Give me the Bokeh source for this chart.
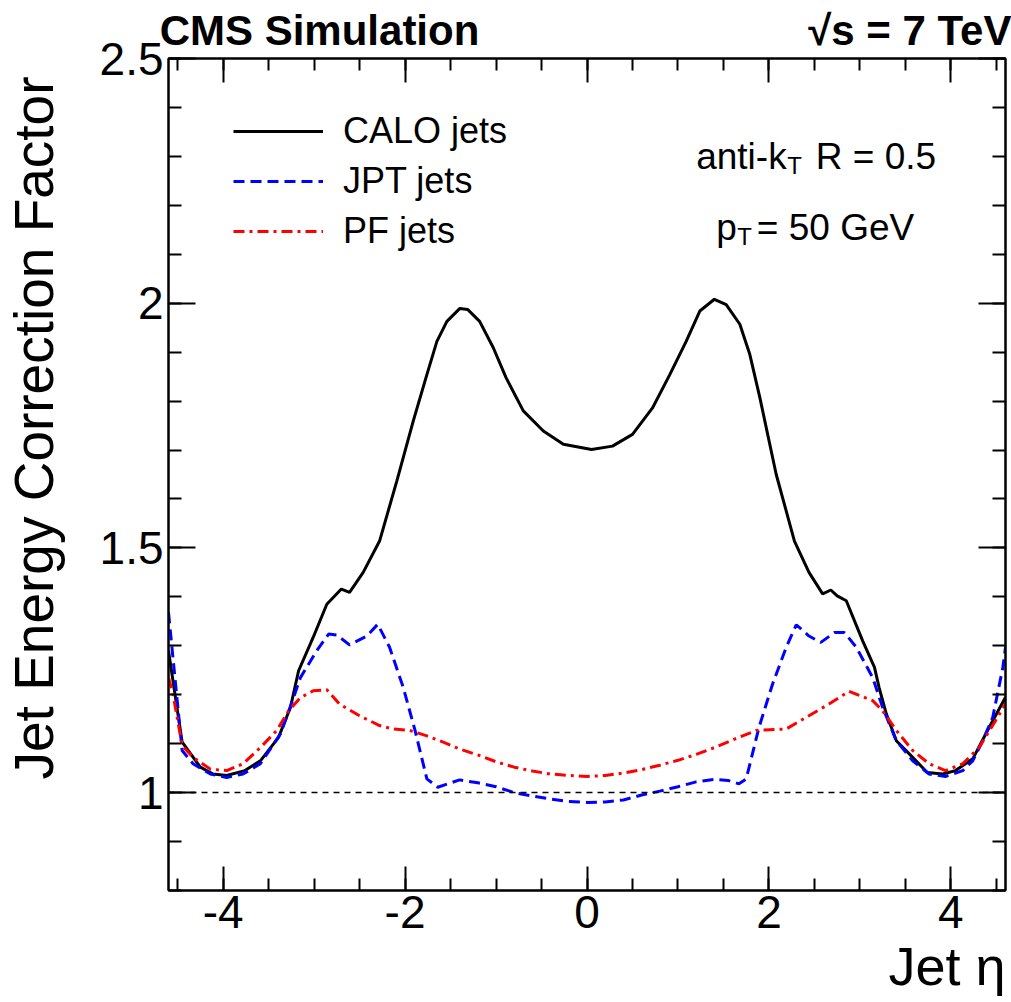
import numpy as np
from bokeh.plotting import figure
from bokeh.models import (Range1d, LinearAxis, SingleIntervalTicker, FixedTicker, Span, Label,
                          Legend, LegendItem, CustomJSTickFormatter, Title)
from bokeh.embed import file_html
from bokeh.resources import INLINE

# ---------------- data ----------------
eta_calo = [-4.60, -4.45, -4.25, -4.11, -3.96, -3.76, -3.59, -3.39, -3.26, -3.17, -3.01, -2.86,
            -2.70, -2.61, -2.46, -2.28, -2.09, -1.91, -1.76, -1.65, -1.54, -1.40, -1.31, -1.18,
            -1.03, -0.89, -0.70, -0.48, -0.26, 0.05, 0.28, 0.50, 0.72, 0.91, 1.09, 1.24, 1.40,
            1.53, 1.68, 1.79, 1.90, 2.08, 2.28, 2.44, 2.59, 2.68, 2.75, 2.85, 3.03, 3.16, 3.21,
            3.29, 3.40, 3.58, 3.74, 3.91, 4.05, 4.24, 4.42, 4.60]
calo = [1.290, 1.103, 1.052, 1.038, 1.035, 1.045, 1.065, 1.113, 1.174, 1.249, 1.317, 1.385,
        1.416, 1.409, 1.450, 1.514, 1.637, 1.759, 1.854, 1.922, 1.963, 1.989, 1.987, 1.963,
        1.909, 1.848, 1.780, 1.739, 1.712, 1.701, 1.708, 1.732, 1.786, 1.854, 1.922, 1.984, 2.008,
        1.997, 1.957, 1.895, 1.807, 1.650, 1.514, 1.450, 1.406, 1.414, 1.402, 1.392, 1.310, 1.256, 1.215,
        1.161, 1.106, 1.072, 1.041, 1.038, 1.045, 1.069, 1.133, 1.195]

eta_jpt = [-4.60, -4.45, -4.33, -4.14, -3.96, -3.78, -3.59, -3.37, -3.25, -3.15, -2.97, -2.84,
           -2.75, -2.61, -2.42, -2.30, -2.17, -2.02, -1.89, -1.76, -1.64, -1.40, -1.20, -1.00,
           -0.80, -0.60, -0.40, -0.20, 0.00, 0.20, 0.40, 0.60, 0.80, 1.00, 1.20, 1.40, 1.55, 1.67,
           1.75, 1.89, 2.04, 2.19, 2.30, 2.44, 2.57, 2.72, 2.83, 2.96, 3.14, 3.25, 3.40, 3.58, 3.76,
           3.94, 4.13, 4.24, 4.35, 4.46, 4.57, 4.60]
jpt = [1.368, 1.086, 1.059, 1.038, 1.031, 1.038, 1.059, 1.120, 1.181, 1.235, 1.290, 1.324,
       1.322, 1.302, 1.320, 1.344, 1.297, 1.215, 1.127, 1.028, 1.011, 1.026, 1.020, 1.012,
       1.000, 0.993, 0.987, 0.982, 0.980, 0.981, 0.985, 0.995, 1.003, 1.012, 1.022, 1.027, 1.025, 1.018,
       1.028, 1.133, 1.222, 1.297, 1.343, 1.320, 1.307, 1.327, 1.327, 1.297, 1.235, 1.174, 1.106, 1.065, 1.038,
       1.033, 1.045, 1.065, 1.106, 1.154, 1.255, 1.297]

eta_pf = [-4.60, -4.55, -4.45, -4.33, -4.14, -3.96, -3.78, -3.59, -3.41, -3.28, -3.15, -3.01,
          -2.86, -2.72, -2.50, -2.28, -2.13, -1.95, -1.76, -1.58, -1.40, -1.20, -1.00, -0.80,
          -0.60, -0.40, -0.20, 0.00, 0.20, 0.40, 0.60, 0.80, 1.00, 1.20, 1.40, 1.67, 1.86, 2.19,
          2.41, 2.66, 2.88, 3.14, 3.25, 3.40, 3.58, 3.76, 3.94, 4.13, 4.31, 4.49, 4.60]
pf = [1.235, 1.201, 1.096, 1.072, 1.048, 1.045, 1.059, 1.092, 1.127, 1.167, 1.194, 1.208,
      1.210, 1.181, 1.157, 1.137, 1.130, 1.127, 1.116, 1.103, 1.089, 1.077, 1.063, 1.052,
      1.044, 1.038, 1.035, 1.033, 1.035, 1.040, 1.047, 1.056, 1.066, 1.078, 1.092, 1.113, 1.127, 1.130,
      1.154, 1.181, 1.207, 1.188, 1.167, 1.127, 1.086, 1.059, 1.045, 1.059, 1.092, 1.147, 1.181]

series_names = ["CALO jets", "JPT jets", "PF jets"]
reference_level = 1.0
x_lo, x_hi = -4.6, 4.6
y_lo, y_hi = 0.8, 2.5

FONT = "Liberation Sans"

# ---------------- figure ----------------
p = figure(frame_width=837, frame_height=832,
           min_border_left=168, min_border_right=6, min_border_top=58, min_border_bottom=110,
           x_range=Range1d(x_lo, x_hi), y_range=Range1d(y_lo, y_hi),
           x_axis_location=None, y_axis_location=None,
           output_backend="svg", toolbar_location=None)
p.grid.visible = False
p.outline_line_color = "black"
p.outline_line_width = 2
p.background_fill_color = "white"
p.border_fill_color = "white"

fmt = CustomJSTickFormatter(code="return String(Math.round(tick*10)/10);")
blank = CustomJSTickFormatter(code="return '';")


def make_axis(ticker, show_labels, major_len, minor_len, font_size="44px", standoff=6):
    ax = LinearAxis(ticker=ticker, formatter=fmt if show_labels else blank,
                    axis_line_color="black", axis_line_width=2,
                    major_tick_in=major_len, major_tick_out=0,
                    minor_tick_in=minor_len, minor_tick_out=0,
                    major_tick_line_color="black", major_tick_line_width=2,
                    minor_tick_line_color="black", minor_tick_line_width=2,
                    major_label_text_font=FONT,
                    major_label_text_color="black",
                    major_label_text_font_size=font_size,
                    major_label_standoff=standoff if show_labels else 0)
    return ax


p.add_layout(make_axis(SingleIntervalTicker(interval=2, num_minor_ticks=4), True, 24, 12, "46px", 5), "below")
p.add_layout(make_axis(SingleIntervalTicker(interval=2, num_minor_ticks=4), False, 24, 12, "1px"), "above")
p.add_layout(make_axis(SingleIntervalTicker(interval=0.5, num_minor_ticks=5), True, 27, 13, "46px", 5), "left")
p.add_layout(make_axis(SingleIntervalTicker(interval=0.5, num_minor_ticks=5), False, 27, 13, "1px"), "right")


def text_axis(pos, code, size, bold, standoff, orientation="horizontal"):
    return LinearAxis(ticker=FixedTicker(ticks=pos),
                      formatter=CustomJSTickFormatter(code=code),
                      axis_line_color=None, major_tick_line_color=None, minor_tick_line_color=None,
                      major_tick_in=0, major_tick_out=0,
                      major_label_text_font=FONT, major_label_text_font_size=size,
                      major_label_text_font_style="bold" if bold else "normal",
                      major_label_text_color="black",
                      major_label_orientation=orientation,
                      major_label_standoff=standoff)


# header texts placed as labels of an extra, line-less axis above the frame
cms_x, sqrt_x = -2.94, 3.55
p.add_layout(text_axis([cms_x, sqrt_x],
                       "return tick < 0 ? 'CMS Simulation' : '\u221as = 7 TeV';",
                       "42px", True, 5), "above")

# y-axis title: a label-only axis outside the tick-label axis, centred at the title's middle
ytitle_pos = 1.745
p.add_layout(text_axis([ytitle_pos], "return 'Jet Energy Correction Factor';",
                       "55px", False, 31, "vertical"), "left")

# x-axis title
p.add_layout(Title(text="Jet \u03b7", align="right", text_font=FONT, text_font_size="54px",
                   text_font_style="normal", text_color="black", standoff=7), "below")

# reference line at 1
p.add_layout(Span(location=reference_level, dimension="width", line_color="black",
                  line_width=1.5, line_dash="6 5"))

r_calo = p.line(eta_calo, calo, line_color="black", line_width=3)
r_jpt = p.line(eta_jpt, jpt, line_color="#0000ff", line_width=3, line_dash="11 6")
r_pf = p.line(eta_pf, pf, line_color="#ff0000", line_width=3, line_dash="11 5 3 5")

legend = Legend(items=[LegendItem(label=series_names[0], renderers=[r_calo]),
                       LegendItem(label=series_names[1], renderers=[r_jpt]),
                       LegendItem(label=series_names[2], renderers=[r_pf])],
                location=(65, 634), orientation="vertical",
                glyph_width=90, glyph_height=50, label_height=50, spacing=0,
                label_standoff=20, padding=0, margin=0,
                label_text_font=FONT, label_text_font_size="36px", label_text_color="black",
                border_line_alpha=0, background_fill_alpha=0)
p.add_layout(legend, "center")


# ---------------- annotation text inside the frame ----------------
def lab(text, x, y, xo, yo, size, align="left"):
    p.add_layout(Label(x=x, y=y, x_offset=xo, y_offset=yo, text=text,
                       text_font=FONT, text_font_size=size, text_align=align,
                       text_baseline="alphabetic", text_color="black"))


lab("anti-k", 1.20, 2.30, 0, 0, "37px")
lab("T", 1.20, 2.30, 91, -9, "24px")
lab("R = 0.5", 1.20, 2.30, 240, 0, "37px", "right")
lab("p", 1.20, 2.155, 20, 0, "37px")
lab("T", 1.20, 2.155, 41, -9, "24px")
lab("= 50 GeV", 1.20, 2.155, 218, 0, "37px", "right")

open("out.html", "w").write(file_html(p, INLINE))
